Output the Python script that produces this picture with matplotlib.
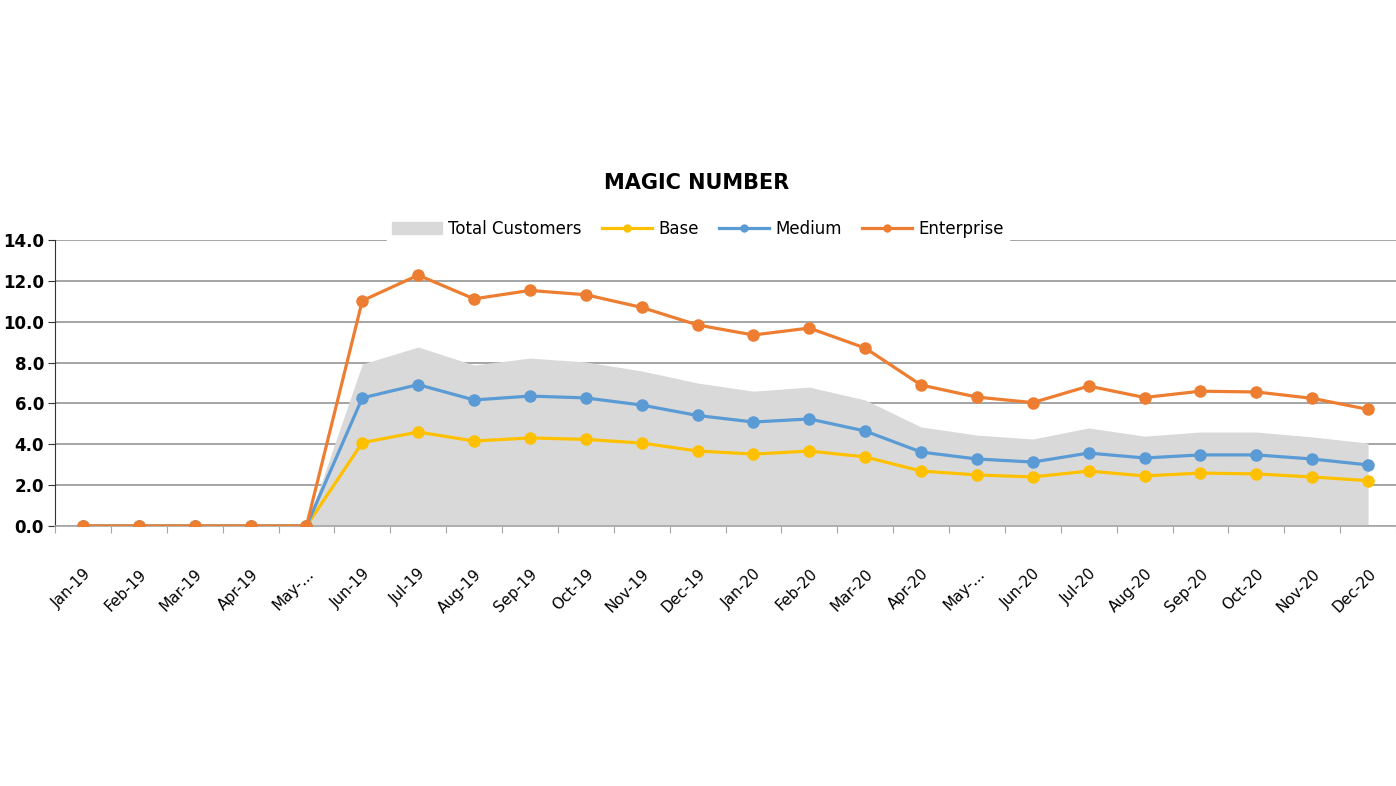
import matplotlib.pyplot as plt
import numpy as np
from matplotlib.patches import Patch
from matplotlib.lines import Line2D

months = ["Jan-19", "Feb-19", "Mar-19", "Apr-19", "May-...", "Jun-19", "Jul-19",
          "Aug-19", "Sep-19", "Oct-19", "Nov-19", "Dec-19", "Jan-20", "Feb-20",
          "Mar-20", "Apr-20", "May-...", "Jun-20", "Jul-20", "Aug-20", "Sep-20",
          "Oct-20", "Nov-20", "Dec-20"]

total_customers = [0, 0, 0, 0, 0, 7.93, 8.76, 7.88, 8.22, 8.03, 7.59, 7.0,
                   6.6, 6.8, 6.17, 4.85, 4.45, 4.26, 4.8, 4.4, 4.6, 4.6, 4.36, 4.06]
base = [0, 0, 0, 0, 0, 4.08, 4.6, 4.16, 4.31, 4.24, 4.06, 3.67,
        3.52, 3.67, 3.38, 2.69, 2.5, 2.4, 2.69, 2.45, 2.59, 2.55, 2.4, 2.22]
medium = [0, 0, 0, 0, 0, 6.27, 6.92, 6.17, 6.36, 6.27, 5.92, 5.41,
          5.09, 5.24, 4.65, 3.62, 3.28, 3.13, 3.57, 3.33, 3.48, 3.48, 3.28, 2.99]
enterprise = [0, 0, 0, 0, 0, 11.03, 12.28, 11.12, 11.53, 11.32, 10.7, 9.84,
              9.35, 9.69, 8.71, 6.9, 6.31, 6.04, 6.85, 6.29, 6.6, 6.56, 6.25, 5.71]

c_total = "#D9D9D9"
c_base = "#FFC000"
c_medium = "#5B9BD5"
c_ent = "#ED7D31"

fig = plt.figure(figsize=(13.96, 7.86), dpi=100)
ax = fig.add_axes([55 / 1396, 1 - 526 / 786, 1 - 55 / 1396, 286 / 786])

x = np.arange(len(months))
ax.fill_between(x[4:], 0, total_customers[4:], color=c_total, linewidth=0, zorder=2)
for vals, col in [(base, c_base), (medium, c_medium), (enterprise, c_ent)]:
    ax.plot(x, vals, color=col, linewidth=2.3, marker="o", markersize=8, zorder=3)

ax.set_xlim(-0.5, len(months) - 0.5)
ax.set_ylim(0, 14)
ax.set_yticks(np.arange(0, 14.1, 2))
ax.set_yticklabels(["%.1f" % v for v in np.arange(0, 14.1, 2)],
                   fontsize=12, fontweight="bold")
ax.set_xticks(np.arange(-0.5, len(months), 1), minor=False)
ax.set_xticklabels([])
ax.set_xticks(x, minor=True)
ax.set_xticklabels(months, minor=True, rotation=45, ha="right",
                   rotation_mode="anchor", fontsize=11)
ax.tick_params(axis="x", which="minor", length=0, pad=29)
ax.tick_params(axis="x", which="major", length=5, color="#A6A6A6", direction="out")
ax.tick_params(axis="y", length=5, color="#333333", pad=3)

ax.grid(axis="y", color="#8C8C8C", linewidth=1.1)
ax.set_axisbelow(True)
for s in ["top", "right"]:
    ax.spines[s].set_visible(False)
ax.spines["left"].set_color("#333333")
ax.spines["bottom"].set_color("#A6A6A6")
ax.spines["bottom"].set_linewidth(1.2)

fig.text(0.499, 1 - 183 / 786, "MAGIC NUMBER", ha="center", va="center",
         fontsize=15, fontweight="bold")

handles = [Patch(color=c_total, label="Total Customers"),
           Line2D([], [], color=c_base, lw=2.3, marker="o", markersize=5, label="Base"),
           Line2D([], [], color=c_medium, lw=2.3, marker="o", markersize=5, label="Medium"),
           Line2D([], [], color=c_ent, lw=2.3, marker="o", markersize=5, label="Enterprise")]
leg = fig.legend(handles=handles, loc="center", bbox_to_anchor=(0.5, 1 - 229 / 786),
                 ncol=4, frameon=True, fontsize=12, handlelength=3,
                 columnspacing=1.2, handletextpad=0.4, borderpad=0.3)
leg.get_frame().set_edgecolor("white")
leg.get_frame().set_facecolor("white")
leg.get_frame().set_alpha(1)

fig.savefig("out.png", dpi=100)
